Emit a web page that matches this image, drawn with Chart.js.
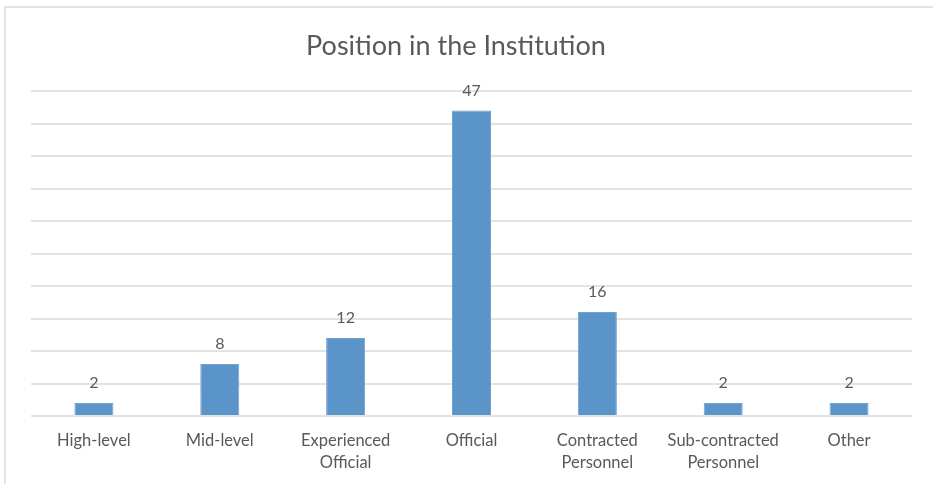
<!DOCTYPE html>
<html>
<head>
<meta charset="utf-8">
<script src="https://cdn.jsdelivr.net/npm/chart.js@4.4.1/dist/chart.umd.min.js"></script>
<style>
    html, body { margin: 0; padding: 0; background: #fff; overflow: hidden; }
    #wrap { position: relative; width: 933px; height: 484px; }
    #frame { position: absolute; left: 4px; top: 6px; width: 1000px; height: 1000px; border-top: 2px solid #e3e3e3; border-left: 2px solid #e3e3e3; pointer-events: none; }
    canvas { position: absolute; left: 0; top: 0; }
</style>
</head>
<body>
<div id="wrap">
    <canvas id="positionChart" width="933" height="484"></canvas>
    <div id="frame"></div>
</div>
<script>
// ========== DATA ==========
const categories = [['High-level'], ['Mid-level'], ['Experienced', 'Official'], ['Official'], ['Contracted', 'Personnel'], ['Sub-contracted', 'Personnel'], ['Other']];
const respondents = [2, 8, 12, 47, 16, 2, 2];
const yMin = 0;
const yMax = 50;
const yStep = 5;

const textColor = '#595959';
const fontFamily = "Lato, 'Open Sans', sans-serif";

// ========== LABEL DI ATAS BATANG ==========
const barValueLabels = {
    id: 'barValueLabels',
    afterDatasetsDraw(chart) {
        const ctx = chart.ctx;
        const meta = chart.getDatasetMeta(0);
        ctx.save();
        ctx.fillStyle = textColor;
        ctx.font = `16px ${fontFamily}`;
        ctx.textAlign = 'center';
        ctx.textBaseline = 'middle';
        meta.data.forEach((bar, i) => {
            ctx.fillText(chart.data.datasets[0].data[i], bar.x, bar.y - 20);
        });
        ctx.restore();
    }
};

// ========== GRAFIK ==========
const ctx = document.getElementById('positionChart').getContext('2d');
const positionChart = new Chart(ctx, {
    type: 'bar',
    data: {
        labels: categories,
        datasets: [{
            label: 'Position',
            data: respondents,
            backgroundColor: '#5b94c9',
            borderColor: '#6fa2d2',
            borderWidth: 1,
            barPercentage: 0.31,
            categoryPercentage: 1
        }]
    },
    options: {
        responsive: false,
        animation: false,
        layout: { padding: { left: 0, right: 21, top: 0, bottom: 0 } },
        plugins: {
            legend: { display: false },
            tooltip: { enabled: false },
            title: {
                display: true,
                text: 'Position in the Institution',
                color: textColor,
                font: { family: fontFamily, size: 27, weight: 'normal' },
                padding: { top: 30, bottom: 28.6 }
            }
        },
        scales: {
            x: {
                grid: { display: false, drawTicks: false },
                border: { display: false },
                ticks: {
                    color: textColor,
                    font: { family: fontFamily, size: 16.5, lineHeight: 1.3 },
                    padding: 14,
                    maxRotation: 0,
                    autoSkip: false
                },
                afterFit(scale) { scale.height = 68; }
            },
            y: {
                min: yMin,
                max: yMax,
                ticks: { display: false, stepSize: yStep },
                grid: { color: '#e3e3e3', lineWidth: 2, drawTicks: false },
                border: { display: false },
                afterFit(scale) { scale.width = 31; }
            }
        }
    },
    plugins: [barValueLabels]
});
</script>
</body>
</html>
